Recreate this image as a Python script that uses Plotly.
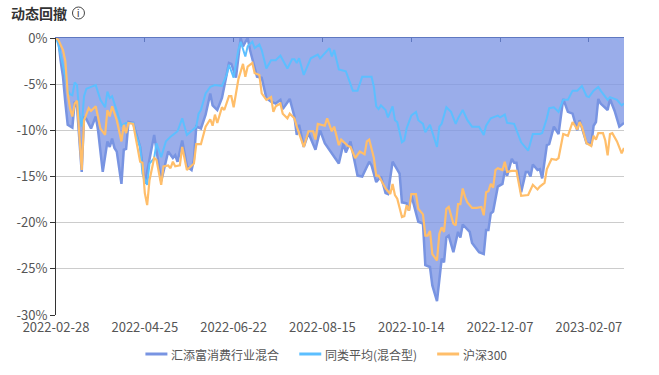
import plotly.graph_objects as go

FONT = "Noto Sans CJK SC, Open Sans, sans-serif"
title_text = "动态回撤"
tick_days = [0, 38, 76, 114, 152, 190, 228]
tick_labels = ["2022-02-28", "2022-04-25", "2022-06-22", "2022-08-15", "2022-10-14", "2022-12-07", "2023-02-07"]
y_ticks = [0, -5, -10, -15, -20, -25, -30]
y_labels = ["0%", "-5%", "-10%", "-15%", "-20%", "-25%", "-30%"]
names = ["汇添富消费行业混合", "同类平均(混合型)", "沪深300"]

fund_days = [0,1,2,3,4,5,7,8,9,11,12,13,15,17,18,20,22,23,24,25,26,28,29,30,31,33,34,36,38,40,42,45,48,50,51,52,54,56,58,59,60,62,64,66,67,69,71,74,75,77,79,80,82,83,86,88,90,92,94,96,97,100,102,103,104,106,108,111,113,115,117,121,123,124,126,129,131,134,135,137,139,141,142,144,147,148,150,151,152,155,157,158,160,161,163,165,166,167,168,170,172,173,174,177,178,179,181,183,184,185,186,187,189,191,192,193,195,196,197,199,201,202,203,204,206,207,208,210,211,213,215,217,219,221,223,224,226,227,229,230,231,232,233,236,237,239,241,243]
fund_dd = [0,-0.2,-2.5,-4.2,-7,-9.4,-9.7,-6.9,-7.5,-14.5,-8.5,-8.8,-9.8,-8.5,-10,-14.5,-11.2,-11.8,-10.9,-11.9,-12.3,-15.8,-12.1,-12,-9.1,-9.2,-10.1,-11.8,-15.8,-13,-10.5,-15.5,-12.3,-13,-12.7,-13.4,-11.1,-13.9,-14.3,-13.2,-9.6,-9.8,-8.3,-6,-7.3,-7.8,-6.5,-2.7,-2.8,-4.3,0,-0.9,0,-1.3,-4.2,-4.3,-6.5,-6.9,-7.1,-6.7,-7.7,-6.6,-8.5,-10.5,-9.4,-11.8,-10.3,-12.1,-10,-11.4,-12.1,-13.6,-11.4,-12.4,-11.2,-14.9,-15,-13.4,-13.8,-15.6,-15,-16.8,-16.9,-13.4,-14.7,-17.8,-17.9,-18.7,-17,-19.9,-20.1,-24.6,-24.8,-26.8,-28.5,-23.9,-24.3,-21.6,-21.4,-23.2,-21,-21.6,-20.2,-21,-22.2,-22.5,-23.2,-23.4,-20.8,-20.8,-19,-18.8,-16.1,-15.8,-14.4,-14.9,-13.1,-13.5,-13.5,-16.7,-14.5,-14.5,-15,-13.7,-14.3,-14.2,-15.2,-11.6,-11.5,-9.6,-10.4,-6.6,-8,-8.2,-10,-8.9,-10.4,-11.4,-11.5,-9.5,-9.1,-6.6,-7.1,-7.8,-6.6,-7.9,-9.6,-9.2]

peer_days = [0,1,3,5,6,7,8,9,10,11,12,13,15,17,19,21,22,23,24,26,28,30,33,34,36,37,39,40,42,43,45,47,49,52,54,56,58,60,61,62,64,66,68,71,73,74,76,78,79,81,82,84,85,87,88,90,92,94,96,99,101,102,103,104,106,108,109,112,113,117,118,119,121,124,127,129,131,133,135,136,137,138,139,141,142,144,145,146,148,149,150,152,154,155,157,158,160,163,164,165,167,169,171,172,174,176,178,181,183,184,186,189,190,192,193,196,199,202,204,207,208,210,211,213,215,217,219,221,223,225,227,228,230,232,233,236,237,240,242,243]
peer_dd = [0,-0.7,-3,-5.6,-6.1,-6.2,-4.8,-5.1,-8.2,-9.6,-6.3,-5.5,-5.3,-5.1,-6.7,-7.5,-5.8,-6.5,-6.3,-7.8,-9.5,-9.2,-9.2,-10.3,-11.8,-14.7,-15.9,-13.6,-13,-11.4,-12.9,-11.2,-10.7,-10.1,-8.7,-10.5,-10,-9.6,-8.2,-7.8,-6,-5.3,-5.1,-5.2,-4,-2.9,-4.3,-1.3,-0.4,-2,-0.9,-0.4,-1.1,-0.7,-1.3,-3.3,-2.4,-2.4,-1.9,-3.3,-2.3,-2.3,-2.7,-2.2,-4,-2.9,-2.2,-1.8,-2.2,-1.1,-2,-1.3,-3.4,-3.6,-5.7,-5.7,-4.2,-4.2,-4.2,-5.3,-7.4,-7.7,-7.3,-7.8,-8.6,-7.4,-8.9,-9.1,-11.3,-11.1,-9.8,-8.4,-8,-8.9,-9.3,-10.2,-9.4,-11.8,-9.6,-9.3,-7.5,-8,-9.3,-8.7,-7.8,-8.9,-9.6,-9.6,-10.5,-9.5,-8.7,-8.4,-8.6,-8.3,-9.2,-9.3,-11.3,-12.2,-10.4,-10.4,-10.3,-8.7,-7.6,-7.5,-8,-6.7,-6.7,-5.7,-5.7,-5.2,-6.3,-6.4,-5.7,-5.3,-5.7,-6.7,-6.4,-6.7,-7.3,-7.1]

index_days = [0,1,3,4,5,6,7,8,9,10,11,12,14,15,17,19,21,22,23,24,26,28,29,30,31,33,34,36,37,38,39,40,42,43,45,46,48,49,50,51,53,54,56,59,60,62,64,66,67,68,69,71,72,74,75,76,78,80,81,82,84,85,87,88,90,92,93,94,96,97,99,100,102,103,106,108,110,111,112,115,116,118,119,121,122,125,126,128,130,132,133,134,136,137,138,141,143,144,145,146,148,149,150,151,152,154,155,157,158,159,160,161,163,164,165,166,167,168,170,171,172,173,174,175,176,178,180,182,183,184,185,186,187,188,189,191,192,193,195,197,199,201,202,204,206,207,209,210,212,214,215,217,219,221,223,224,225,227,229,230,231,232,234,235,236,237,238,240,242,243]
index_dd = [0,-0.2,-1.3,-2.5,-6,-7.6,-8.5,-7.1,-6.8,-10.3,-14.3,-8.9,-7.6,-7.9,-7.4,-9.8,-10.5,-7.8,-8.5,-7.4,-8.9,-11.2,-9.4,-10.3,-9.2,-9.3,-10.7,-13.4,-13.5,-16.8,-18.1,-15.4,-13,-13.2,-15.9,-13.9,-13.8,-14.1,-13.4,-13.9,-13.8,-11.8,-14.3,-13.6,-11.5,-11.5,-9.6,-8.8,-9.5,-8.3,-9.2,-7.5,-7.8,-6.3,-6.3,-7.5,-4.5,-2.8,-4.2,-3.1,-2.7,-3.8,-4,-6,-6.7,-6.4,-8,-7.4,-7.1,-8.2,-8.7,-8.2,-8.7,-9.6,-11.8,-10.1,-10.1,-11,-9.3,-9.5,-8.7,-10.1,-9.6,-11.6,-11,-11.7,-11.8,-13,-12.3,-12.6,-11.2,-11,-13,-14.9,-14.9,-16.3,-16.9,-15.8,-17,-17.4,-19.4,-19.3,-18.1,-18.7,-16.9,-16.9,-18.5,-19.1,-21.4,-21.4,-20.9,-23.4,-24.1,-21.2,-20.5,-21,-18.5,-18.3,-20.1,-20.3,-18,-18,-16.3,-17.2,-17.8,-18.4,-18.4,-18.3,-19.2,-16.7,-16.6,-15.8,-16.2,-14.3,-14.1,-14.3,-13.4,-14.5,-14.4,-14.4,-17.1,-17,-17,-15.9,-16.4,-16.1,-15.7,-14.2,-13.1,-13.2,-13,-10.4,-10.6,-9.1,-9.9,-9.1,-9.6,-11.4,-11.7,-10.6,-11,-10.3,-10.3,-11.1,-12.7,-10.4,-10.3,-11.2,-12.5,-11.9]

for a, b in [(fund_days, fund_dd), (peer_days, peer_dd), (index_days, index_dd)]:
    assert len(a) == len(b), (len(a), len(b))

C_FUND, C_PEER, C_INDEX = "rgb(120,148,226)", "#5cbfff", "#ffbe6a"
X_RANGE = [0, 243]
W, H = 659, 375
L, R, T, B = 55.5, 35, 38, 60
def px(x): return (x - L) / (W - L - R)
def py(y): return (H - B - y) / (H - T - B)

fig = go.Figure()
fig.add_trace(go.Scatter(x=fund_days, y=fund_dd, mode="lines", fill="tozeroy", fillcolor="rgba(125,150,228,0.78)",
                         line=dict(color=C_FUND, width=2.5), name=names[0]))
fig.add_trace(go.Scatter(x=peer_days, y=peer_dd, mode="lines", line=dict(color=C_PEER, width=2), name=names[1]))
fig.add_trace(go.Scatter(x=index_days, y=index_dd, mode="lines", line=dict(color=C_INDEX, width=2.2), name=names[2]))
fig.add_trace(go.Scatter(x=tick_days, y=[0] * len(tick_days), xaxis="x2", mode="lines", opacity=0,
                         showlegend=False, hoverinfo="skip"))

annotations = [
    dict(text="<b>" + title_text + "</b>", xref="paper", yref="paper", x=px(8.5), y=py(13), xanchor="left",
         yanchor="middle", showarrow=False, font=dict(size=14, color="#333", family=FONT)),
    dict(text="i", xref="paper", yref="paper", x=px(78), y=py(13), xanchor="center", yanchor="middle",
         showarrow=False, font=dict(size=11, color="#444", family="Liberation Sans")),
]
shapes = [dict(type="circle", xref="paper", yref="paper", x0=px(72), x1=px(84), y0=py(19), y1=py(7),
               line=dict(color="#444", width=1))]
for name, color, lx in zip(names, [C_FUND, C_PEER, C_INDEX], [145, 299, 437]):
    shapes.append(dict(type="line", xref="paper", yref="paper", x0=px(lx), x1=px(lx + 22), y0=py(354), y1=py(354),
                       line=dict(color=color, width=3)))
    annotations.append(dict(text=name, xref="paper", yref="paper", x=px(lx + 24), y=py(354), xanchor="left",
                            yanchor="middle", showarrow=False, font=dict(size=12, color="#555", family=FONT)))

fig.update_layout(
    width=W, height=H, margin=dict(l=L, r=R, t=T, b=B),
    paper_bgcolor="white", plot_bgcolor="white", showlegend=False,
    font=dict(family=FONT, size=12, color="#555"),
    xaxis=dict(range=X_RANGE, side="top", showgrid=False, zeroline=False, showticklabels=False,
               ticks="inside", ticklen=4, tickcolor="#5f78c0", linecolor="#5f78c0", linewidth=1,
               showline=True, tickmode="array", tickvals=tick_days),
    xaxis2=dict(range=X_RANGE, overlaying="x", side="bottom", anchor="y", showgrid=False, zeroline=False,
                showline=False, ticks="", tickmode="array", tickvals=tick_days, ticktext=tick_labels,
                tickfont=dict(size=13, color="#555"), ticklabelstandoff=3),
    yaxis=dict(range=[-30, 0], tickmode="array", tickvals=y_ticks, ticktext=y_labels, gridcolor="#ccc", gridwidth=1,
               zeroline=False, showline=True, linecolor="#333", linewidth=1, ticks="outside", ticklen=5,
               tickcolor="#333", tickfont=dict(size=13, color="#555")),
    annotations=annotations, shapes=shapes,
)
fig.write_html("out.html", config={"displayModeBar": False}, post_script="document.body.style.margin='0';")
